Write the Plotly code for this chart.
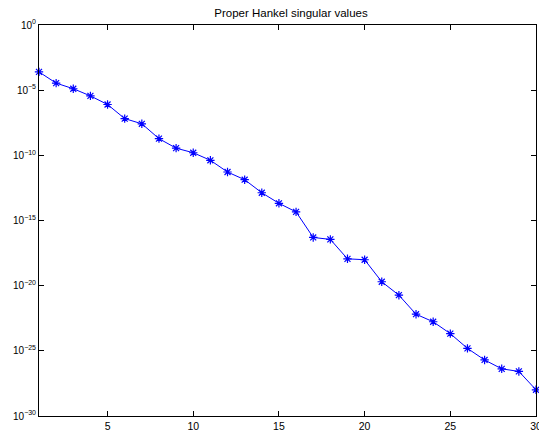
import plotly.graph_objects as go

orders = list(range(1, 31))
hsv_log10 = [-3.60, -4.46, -4.89, -5.44, -6.10, -7.18, -7.58, -8.72, -9.45, -9.80,
             -10.38, -11.28, -11.87, -12.87, -13.68, -14.34, -16.30, -16.45, -17.94, -18.01,
             -19.70, -20.73, -22.19, -22.77, -23.68, -24.81, -25.70, -26.38, -26.58, -27.99]
hsv = [10 ** v for v in hsv_log10]

x_ticks = [5, 10, 15, 20, 25, 30]
y_tick_exps = [0, -5, -10, -15, -20, -25, -30]
y_tickvals = [10.0 ** e for e in y_tick_exps]
y_ticktext = ["10<sup>%s</sup>" % (str(e).replace("-", "\u2212")) for e in y_tick_exps]

# the page body adds an 8px offset, so the figure is 8px smaller on each of those sides
W, H = 539, 429

fig = go.Figure()
fig.add_trace(go.Scatter(
    x=orders, y=hsv, mode="lines+markers",
    line=dict(color="#0000ff", width=1),
    marker=dict(symbol="asterisk-open", size=7, color="#0000ff",
                line=dict(color="#0000ff", width=1.2)),
    cliponaxis=False, showlegend=False,
))

font_family = "Liberation Sans, Arial, sans-serif"
fig.update_layout(
    width=W, height=H,
    margin=dict(l=30, r=5, t=17, b=15),
    paper_bgcolor="white", plot_bgcolor="white",
    title=dict(text="Proper Hankel singular values", x=(291 - 8) / W, xanchor="center",
               y=1 - 4.5 / H, yanchor="middle",
               font=dict(family=font_family, size=11.5, color="black")),
    xaxis=dict(range=[1, 30], tickvals=x_ticks, ticks="inside", ticklen=5,
               showline=True, linecolor="black", linewidth=1, mirror="ticks",
               showgrid=False, zeroline=False,
               tickfont=dict(family=font_family, size=10.5, color="black"),
               tickcolor="black"),
    yaxis=dict(type="log", range=[-30, 0], tickvals=y_tickvals, ticktext=y_ticktext,
               ticks="inside", ticklen=5, showline=True, linecolor="black", linewidth=1,
               mirror="ticks", showgrid=False, zeroline=False,
               tickfont=dict(family=font_family, size=10, color="black"),
               tickcolor="black"),
)

fig.write_html("out.html")
